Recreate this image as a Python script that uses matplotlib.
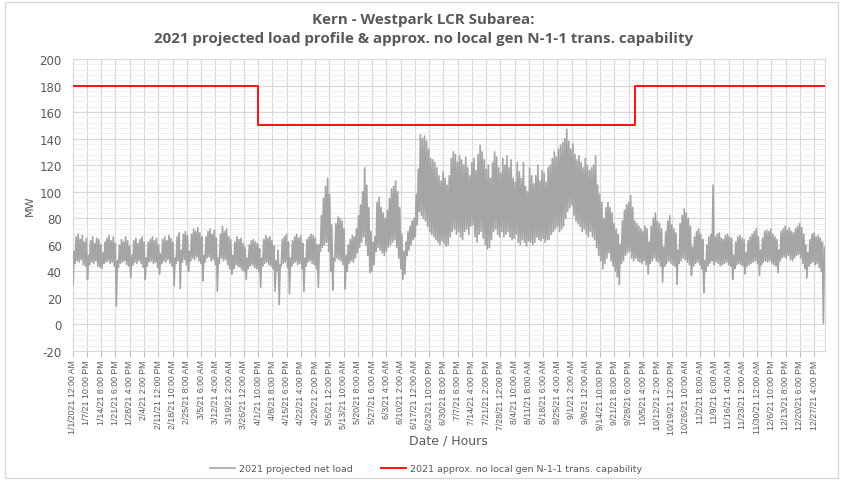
import numpy as np
import pandas as pd
import matplotlib
matplotlib.use('Agg')
import matplotlib.pyplot as plt
from matplotlib.patches import Rectangle
from matplotlib.ticker import MultipleLocator

plt.rcParams['axes.unicode_minus'] = False

# daily high / low of the projected net load (MW), one row per week
load_high = [
    55, 66, 68, 64, 67, 62, 65,
    52, 63, 66, 61, 65, 64, 60,
    54, 62, 65, 67, 63, 66, 61,
    48, 60, 64, 62, 66, 63, 59,
    52, 63, 65, 61, 64, 66, 62,
    50, 62, 64, 66, 63, 65, 60,
    53, 64, 66, 63, 67, 65, 62,
    50, 66, 69, 56, 68, 70, 67,
    55, 68, 72, 70, 73, 69, 66,
    52, 66, 70, 72, 68, 71, 65,
    50, 68, 74, 70, 72, 66, 64,
    52, 62, 66, 64, 65, 61, 58,
    50, 60, 63, 64, 62, 61, 57,
    50, 64, 67, 65, 66, 63, 59,
    48, 56, 45, 64, 66, 68, 62,
    50, 63, 66, 68, 65, 67, 61,
    50, 64, 66, 68, 67, 65, 60,
    60, 82, 95, 104, 110, 98, 75,
    50, 76, 81, 80, 78, 72, 52,
    60, 64, 67, 66, 72, 82, 90,
    100, 118, 105, 88, 70, 62, 66,
    92, 96, 88, 84, 80, 86, 95,
    102, 104, 108, 100, 88, 68, 55,
    62, 70, 74, 78, 80, 98, 117,
    143, 140, 142, 138, 132, 125, 124,
    122, 118, 112, 108, 115, 110, 105,
    112, 125, 130, 128, 122, 127, 124,
    120, 126, 118, 112, 122, 125, 116,
    128, 135, 130, 124, 117, 120, 110,
    122, 130, 126, 118, 114, 125, 120,
    127, 118, 124, 110, 107, 122, 115,
    110, 122, 104, 100, 118, 112, 106,
    112, 120, 108, 116, 114, 107, 118,
    120, 125, 130, 126, 132, 135, 137,
    140, 147, 138, 132, 136, 128, 124,
    127, 122, 118, 125, 120, 116, 118,
    120, 127, 105, 98, 92, 80, 88,
    92, 88, 84, 76, 72, 68, 60,
    78, 86, 90, 92, 97, 88, 78,
    76, 74, 72, 70, 74, 72, 62,
    74, 80, 84, 78, 76, 72, 58,
    70, 78, 82, 75, 72, 69, 56,
    76, 82, 87, 84, 80, 74, 58,
    66, 70, 72, 68, 64, 48, 60,
    66, 68, 105, 66, 68, 69, 65,
    64, 67, 68, 66, 65, 52, 62,
    66, 67, 65, 64, 54, 63, 66,
    68, 70, 72, 66, 56, 65, 70,
    71, 70, 72, 68, 66, 64, 56,
    70, 72, 74, 71, 73, 70, 69,
    72, 74, 76, 73, 68, 60, 54,
    64, 68, 69, 66, 67, 65, 62,
    58,
]
load_low = [
    30, 46, 48, 47, 49, 45, 44,
    34, 45, 47, 46, 48, 44, 43,
    42, 46, 47, 48, 46, 47, 44,
    14, 43, 46, 47, 48, 45, 44,
    35, 45, 47, 46, 48, 46, 43,
    34, 44, 47, 48, 46, 47, 43,
    38, 46, 48, 47, 49, 46, 44,
    29, 46, 48, 27, 47, 49, 45,
    40, 48, 50, 49, 51, 48, 46,
    33, 47, 50, 51, 48, 49, 45,
    25, 46, 50, 48, 49, 45, 42,
    38, 42, 45, 44, 43, 41, 40,
    34, 42, 44, 45, 43, 42, 40,
    28, 44, 46, 47, 45, 44, 42,
    25, 40, 15, 44, 46, 47, 43,
    23, 44, 46, 47, 45, 46, 42,
    25, 44, 47, 48, 46, 45, 42,
    28, 55, 58, 60, 62, 55, 40,
    26, 48, 50, 49, 48, 45, 27,
    40, 46, 48, 47, 50, 54, 58,
    62, 66, 60, 52, 39, 40, 45,
    55, 58, 56, 54, 52, 55, 58,
    60, 62, 64, 58, 50, 42, 34,
    38, 52, 56, 60, 64, 66, 75,
    85, 82, 80, 78, 74, 70, 68,
    66, 64, 62, 60, 63, 61, 59,
    60, 66, 70, 72, 68, 70, 66,
    64, 70, 72, 68, 74, 75, 66,
    62, 68, 70, 65, 60, 57, 58,
    64, 70, 72, 68, 66, 70, 66,
    68, 70, 66, 64, 65, 68, 62,
    60, 64, 62, 59, 63, 62, 60,
    62, 66, 64, 63, 65, 62, 64,
    64, 68, 70, 72, 74, 70, 72,
    74, 80, 85, 88, 90, 82, 78,
    76, 74, 70, 72, 68, 66, 70,
    66, 64, 58, 52, 48, 42, 46,
    50, 54, 48, 44, 40, 36, 30,
    46, 48, 52, 54, 55, 50, 48,
    50, 48, 47, 46, 48, 45, 38,
    46, 48, 50, 48, 47, 44, 32,
    44, 46, 48, 46, 45, 44, 30,
    46, 48, 50, 49, 47, 45, 37,
    44, 46, 47, 45, 42, 24, 40,
    44, 46, 48, 45, 47, 46, 44,
    45, 46, 47, 45, 44, 34, 42,
    45, 46, 45, 44, 38, 44, 45,
    46, 47, 48, 46, 37, 45, 47,
    48, 47, 48, 46, 45, 44, 39,
    48, 50, 51, 50, 52, 49, 48,
    50, 52, 53, 50, 46, 42, 35,
    44, 46, 47, 45, 46, 43, 40,
    1,
]

# transmission capability steps (MW) and the dates they start
cap_dates = ['2021-01-01', '2021-04-01', '2021-10-01']
cap_mw = [180, 150, 180]

tick_labels = [
    '1/1/2021 12:00 AM', '1/7/21 10:00 PM', '1/14/21 8:00 PM', '1/21/21 6:00 PM',
    '1/28/21 4:00 PM', '2/4/21 2:00 PM', '2/11/21 12:00 PM', '2/18/21 10:00 AM',
    '2/25/21 8:00 AM', '3/5/21 6:00 AM', '3/12/21 4:00 AM', '3/19/21 2:00 AM',
    '3/26/21 12:00 AM', '4/1/21 10:00 PM', '4/8/21 8:00 PM', '4/15/21 6:00 PM',
    '4/22/21 4:00 PM', '4/29/21 2:00 PM', '5/6/21 12:00 PM', '5/13/21 10:00 AM',
    '5/20/21 8:00 AM', '5/27/21 6:00 AM', '6/3/21 4:00 AM', '6/10/21 2:00 AM',
    '6/17/21 12:00 AM', '6/23/21 10:00 PM', '6/30/21 8:00 PM', '7/7/21 6:00 PM',
    '7/14/21 4:00 PM', '7/21/21 2:00 PM', '7/28/21 12:00 PM', '8/4/21 10:00 AM',
    '8/11/21 8:00 AM', '8/18/21 6:00 AM', '8/25/21 4:00 AM', '9/1/21 2:00 AM',
    '9/8/21 12:00 AM', '9/14/21 10:00 PM', '9/21/21 8:00 PM', '9/28/21 6:00 PM',
    '10/5/21 4:00 PM', '10/12/21 2:00 PM', '10/19/21 12:00 PM', '10/26/21 10:00 AM',
    '11/2/21 8:00 AM', '11/9/21 6:00 AM', '11/16/21 4:00 AM', '11/23/21 2:00 AM',
    '11/30/21 12:00 AM', '12/6/21 10:00 PM', '12/13/21 8:00 PM', '12/20/21 6:00 PM',
    '12/27/21 4:00 PM',
]

n_hours = 8760
tick_step = 166

# load as a zig-zag: low in the early morning, high in the afternoon
days = np.arange(len(load_high))
x_load = np.column_stack([days * 24 + 4, days * 24 + 16]).ravel()
y_load = np.column_stack([load_low, load_high]).ravel()

# capability step line in hours from Jan 1
start = pd.Timestamp('2021-01-01')
cap_x = [(pd.Timestamp(d) - start).total_seconds() / 3600 for d in cap_dates] + [n_hours - 1]
cap_y = cap_mw + [cap_mw[-1]]

txt = '#595959'
grid = '#D9D9D9'

fig = plt.figure(figsize=(8.47, 4.81), dpi=100)
ax = fig.add_axes([72.7 / 847, 1 - 352 / 481, (825 - 72.7) / 847, (352 - 60) / 481])

ax.plot(x_load, y_load, color='#A5A5A5', lw=1.2, label='2021 projected net load', zorder=3)
ax.step(cap_x, cap_y, where='post', color='#FF0000', lw=1.3,
        label='2021 approx. no local gen N-1-1 trans. capability', zorder=4)

ax.set_xlim(0, n_hours - 1)
ax.set_ylim(-20, 200)
ax.yaxis.set_major_locator(MultipleLocator(20))
ax.yaxis.set_minor_locator(MultipleLocator(4))
ax.set_xticks(np.arange(len(tick_labels)) * tick_step)
ax.set_xticklabels(tick_labels, rotation=90, fontsize=6.3, color=txt, family='Liberation Sans')

ax.grid(True, which='major', color=grid, lw=0.9)
ax.grid(True, which='minor', axis='y', color='#EEEEEE', lw=0.6)
ax.set_axisbelow(True)
for s in ax.spines.values():
    s.set_color(grid)
ax.tick_params(axis='x', which='major', length=4, color='#BFBFBF', pad=2)
ax.tick_params(axis='y', which='both', length=0, labelsize=8.5, labelcolor=txt, pad=8)

ax.set_ylabel('MW', fontsize=8, color=txt, labelpad=3)
ax.set_xlabel('Date / Hours', fontsize=9, color=txt, labelpad=0)

fig.text(0.5, 1 - 20 / 481, 'Kern - Westpark LCR Subarea:', ha='center', va='center',
         fontsize=10.9, fontweight='bold', color=txt, family='Open Sans')
fig.text(0.5, 1 - 39 / 481, '2021 projected load profile & approx. no local gen N-1-1 trans. capability',
         ha='center', va='center', fontsize=10.9, fontweight='bold', color=txt, family='Open Sans')

fig.legend(loc='center', bbox_to_anchor=(426 / 847, 1 - 470 / 481), ncol=2, frameon=False,
           fontsize=6.8, labelcolor=txt, handlelength=2.7, handletextpad=0.4, columnspacing=3.0)

# chart border
fig.patches.append(Rectangle((5 / 847, 2 / 481), 833 / 847, 476 / 481, transform=fig.transFigure,
                             fill=False, ec=grid, lw=1))

fig.savefig('out.png', dpi=100)
